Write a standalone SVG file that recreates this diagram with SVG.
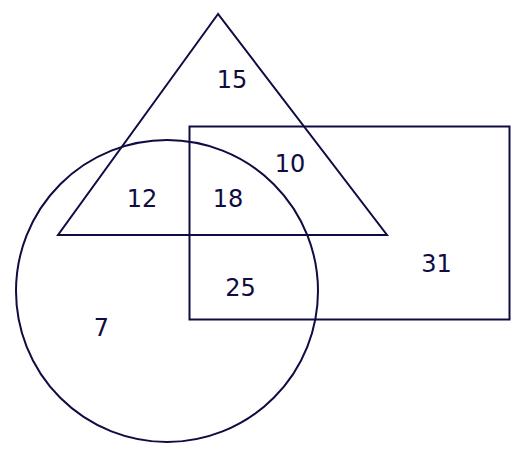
<svg xmlns="http://www.w3.org/2000/svg" width="520" height="455" viewBox="0 0 520 455">
<style>
.s{fill:none;stroke:#0e0c42;stroke-width:2}
.t{font-family:"DejaVu Sans",sans-serif;font-size:24px;fill:#0e0c42;text-anchor:middle}
</style>
<rect width="520" height="455" fill="#ffffff"/>
<g id="triangle"><polygon class="s" points="218,14 58,235 387,235"/></g>
<g id="rectangle"><rect class="s" x="189.5" y="126.5" width="320" height="193"/></g>
<g id="circle"><circle class="s" cx="167" cy="291" r="151"/></g>
<g id="labels">
<text class="t" x="232" y="88">15</text>
<text class="t" x="290" y="172">10</text>
<text class="t" x="142" y="207">12</text>
<text class="t" x="228" y="207">18</text>
<text class="t" x="240.5" y="296">25</text>
<text class="t" x="436.5" y="272">31</text>
<text class="t" x="101.5" y="335.5">7</text>
</g>
</svg>
